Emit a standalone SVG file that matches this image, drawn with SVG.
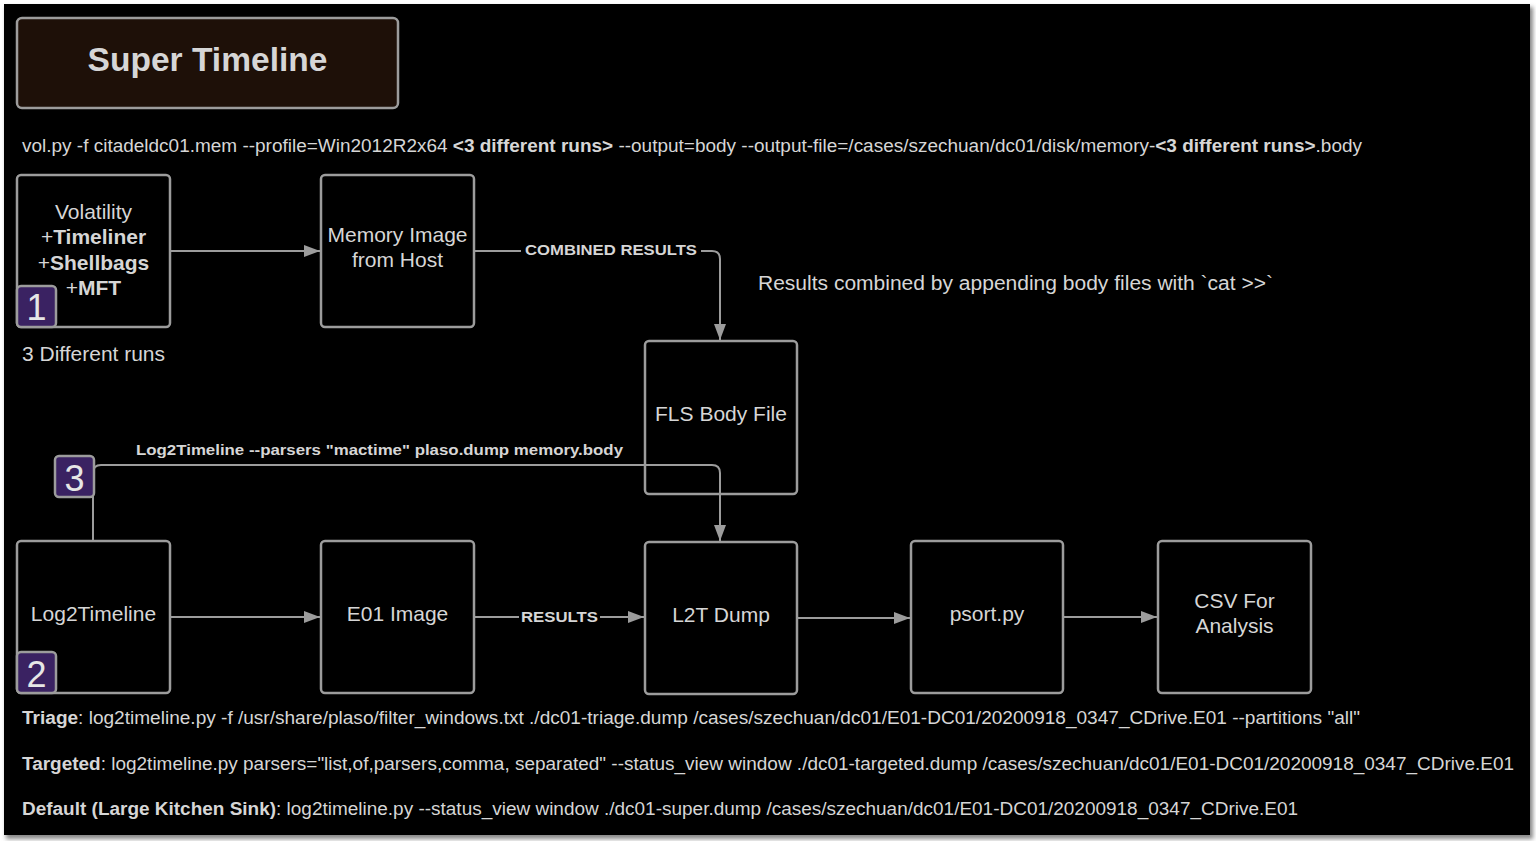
<svg xmlns="http://www.w3.org/2000/svg" width="1536" height="841" viewBox="0 0 1536 841">
<defs>
<style>
.node{fill:#000;stroke:#9c9c9c;stroke-width:2.5}
.t{font-family:"Liberation Sans",Arial,sans-serif;fill:#d6d6d6}
.nt{font-size:21px;text-anchor:middle}
.lbl{font-size:15px;font-weight:bold}
.cmd{font-size:17.5px}
.conn{fill:none;stroke:#9c9c9c;stroke-width:2}
.badge{fill:#3a2262;stroke:#9c9c9c;stroke-width:2.5}
.bn{font-family:"Liberation Sans",Arial,sans-serif;fill:#e6e6e6;font-size:36px;text-anchor:middle}
</style>
<marker id="arr" viewBox="0 0 16 12" refX="16" refY="6" markerWidth="16" markerHeight="12" markerUnits="userSpaceOnUse" orient="auto">
<path d="M0,0 L16,6 L0,12 Z" fill="#9c9c9c"/>
</marker>
<filter id="sh" x="-2%" y="-2%" width="104%" height="106%">
<feGaussianBlur stdDeviation="2"/>
</filter>
</defs>
<rect width="1536" height="841" fill="#fff"/>
<rect x="6" y="7" width="1527" height="832" fill="#888" filter="url(#sh)"/>
<rect x="4" y="4" width="1526" height="831" fill="#000"/>

<g id="title">
<rect x="17" y="18" width="381" height="90" rx="5" fill="#1e1008" stroke="#9c9c9c" stroke-width="2.5"/>
<text class="t" x="207.5" y="71" font-size="33" font-weight="bold" text-anchor="middle" textLength="240" lengthAdjust="spacingAndGlyphs">Super Timeline</text>
</g>

<g id="texts">
<text class="t cmd" x="22" y="152" textLength="1340" lengthAdjust="spacingAndGlyphs">vol.py -f citadeldc01.mem --profile=Win2012R2x64 <tspan font-weight="bold">&lt;3 different runs&gt;</tspan> --output=body --output-file=/cases/szechuan/dc01/disk/memory-<tspan font-weight="bold">&lt;3 different runs&gt;</tspan>.body</text>
<text class="t" x="758" y="290" font-size="20" textLength="515" lengthAdjust="spacingAndGlyphs">Results combined by appending body files with `cat &gt;&gt;`</text>
<text class="t" x="22" y="361" font-size="20" textLength="143" lengthAdjust="spacingAndGlyphs">3 Different runs</text>
<text class="t cmd" x="22" y="724" textLength="1338" lengthAdjust="spacingAndGlyphs"><tspan font-weight="bold">Triage</tspan>: log2timeline.py  -f /usr/share/plaso/filter_windows.txt ./dc01-triage.dump /cases/szechuan/dc01/E01-DC01/20200918_0347_CDrive.E01 --partitions "all"</text>
<text class="t cmd" x="22" y="770" textLength="1492" lengthAdjust="spacingAndGlyphs"><tspan font-weight="bold">Targeted</tspan>: log2timeline.py parsers="list,of,parsers,comma, separated" --status_view window ./dc01-targeted.dump /cases/szechuan/dc01/E01-DC01/20200918_0347_CDrive.E01</text>
<text class="t cmd" x="22" y="815" textLength="1276" lengthAdjust="spacingAndGlyphs"><tspan font-weight="bold">Default (Large Kitchen Sink)</tspan>: log2timeline.py --status_view window ./dc01-super.dump /cases/szechuan/dc01/E01-DC01/20200918_0347_CDrive.E01</text>
</g>

<g id="node-volatility">
<rect class="node" x="17" y="175" width="153" height="152" rx="4"/>
<text class="t nt" x="93.5" y="219">Volatility</text>
<text class="t nt" x="93.5" y="244">+<tspan font-weight="bold">Timeliner</tspan></text>
<text class="t nt" x="93.5" y="270">+<tspan font-weight="bold">Shellbags</tspan></text>
<text class="t nt" x="93.5" y="295">+<tspan font-weight="bold">MFT</tspan></text>
</g>

<g id="node-memory">
<rect class="node" x="321" y="175" width="153" height="152" rx="4"/>
<text class="t nt" x="397.5" y="242">Memory Image</text>
<text class="t nt" x="397.5" y="267">from Host</text>
</g>

<g id="node-fls">
<rect class="node" x="645" y="341" width="152" height="153" rx="4"/>
<text class="t nt" x="721" y="421">FLS Body File</text>
</g>

<g id="node-log2timeline">
<rect class="node" x="17" y="541" width="153" height="152" rx="4"/>
<text class="t nt" x="93.5" y="621">Log2Timeline</text>
</g>

<g id="node-e01">
<rect class="node" x="321" y="541" width="153" height="152" rx="4"/>
<text class="t nt" x="397.5" y="621">E01 Image</text>
</g>

<g id="node-l2tdump">
<rect class="node" x="645" y="542" width="152" height="152" rx="4"/>
<text class="t nt" x="721" y="622">L2T Dump</text>
</g>

<g id="node-psort">
<rect class="node" x="911" y="541" width="152" height="152" rx="4"/>
<text class="t nt" x="987" y="621">psort.py</text>
</g>

<g id="node-csv">
<rect class="node" x="1158" y="541" width="153" height="152" rx="4"/>
<text class="t nt" x="1234.5" y="608">CSV For</text>
<text class="t nt" x="1234.5" y="633">Analysis</text>
</g>

<g id="connectors">
<path class="conn" d="M170,251 H320" marker-end="url(#arr)"/>
<path class="conn" d="M474,251 H712 Q720,251 720,259 V340" marker-end="url(#arr)"/>
<path class="conn" d="M93,541 V473 Q93,465 101,465 H712 Q720,465 720,473 V541" marker-end="url(#arr)"/>
<path class="conn" d="M170,617 H320" marker-end="url(#arr)"/>
<path class="conn" d="M474,617 H644" marker-end="url(#arr)"/>
<path class="conn" d="M797,618 H910" marker-end="url(#arr)"/>
<path class="conn" d="M1063,617 H1157" marker-end="url(#arr)"/>
<rect x="521" y="240" width="180" height="20" fill="#000"/>
<text class="t lbl" x="611" y="255" text-anchor="middle" textLength="172" lengthAdjust="spacingAndGlyphs">COMBINED RESULTS</text>
<rect x="519" y="607" width="81" height="20" fill="#000"/>
<text class="t lbl" x="559.5" y="622" text-anchor="middle" textLength="77" lengthAdjust="spacingAndGlyphs">RESULTS</text>
<text class="t lbl" x="136" y="455" textLength="487" lengthAdjust="spacingAndGlyphs">Log2Timeline --parsers "mactime" plaso.dump memory.body</text>
</g>

<g id="badge-1">
<rect class="badge" x="17" y="286" width="39" height="41" rx="4"/>
<text class="bn" x="36.5" y="320">1</text>
</g>
<g id="badge-2">
<rect class="badge" x="17" y="652" width="39" height="41" rx="4"/>
<text class="bn" x="36.5" y="687">2</text>
</g>
<g id="badge-3">
<rect class="badge" x="55" y="456" width="39" height="41" rx="4"/>
<text class="bn" x="74.5" y="491">3</text>
</g>
</svg>
